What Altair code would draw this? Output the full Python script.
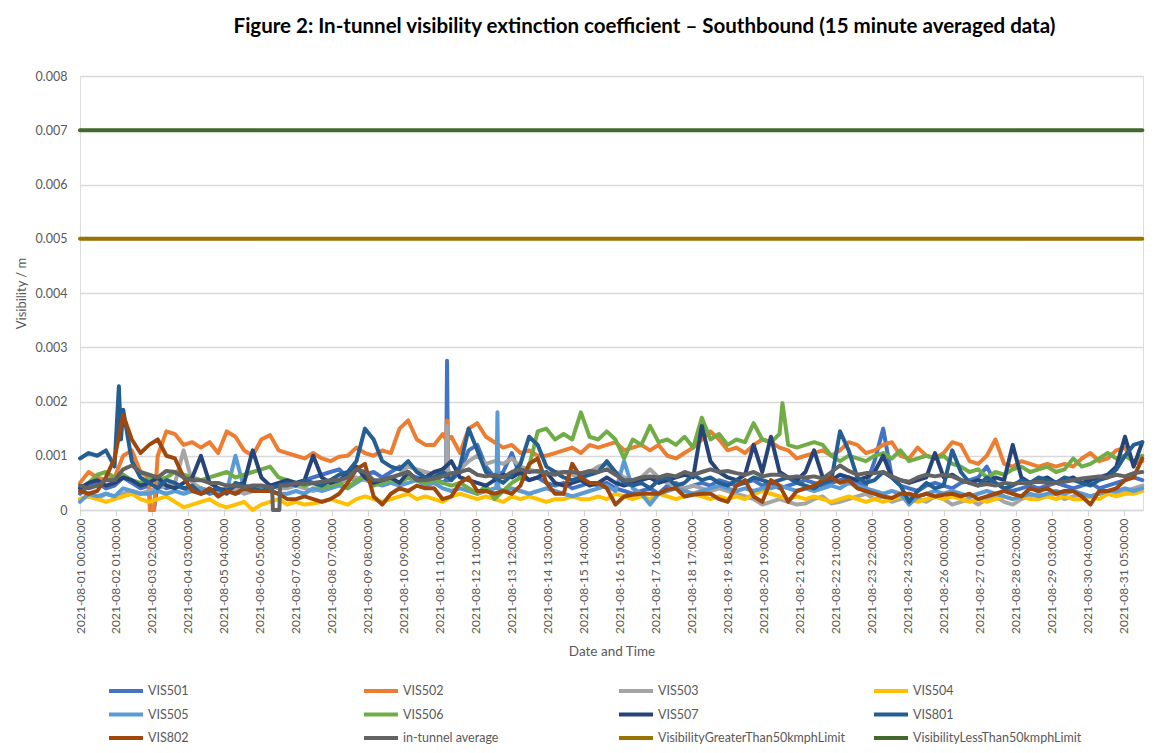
import altair as alt
import pandas as pd

# Readings every 6 hours from 2021-08-01 00:00; values in units of 0.001 per m
STEP_H = 6

VIS501 = [0.3, 0.45, 0.5, 0.4, 0.45, 0.6, 0.5, 0.4, 0.45, 0.5, 0.4, 0.45,
          0.4, 0.35, 0.4, 0.3, 0.35, 0.4, 0.3, 0.35, 0.4, 0.35, 0.4, 0.45,
          0.5, 0.45, 0.55, 0.6, 0.65, 0.7, 0.75, 0.6, 0.55, 0.65, 0.7, 0.6,
          0.7, 0.8, 0.65, 0.6, 0.55, 0.6, 0.5, 0.55, 0.7, 1.1, 1.2, 0.8,
          0.6, 0.7, 1.05, 0.6, 0.55, 0.6, 0.5, 0.45, 0.5, 0.4, 0.45, 0.5,
          0.45, 0.5, 0.4, 0.35, 0.3, 0.35, 0.4, 0.3, 0.45, 0.5, 0.4, 0.45,
          0.5, 0.45, 0.55, 0.5, 0.45, 0.5, 0.55, 0.45, 0.5, 0.4, 0.45, 0.5,
          0.55, 0.5, 0.45, 0.5, 0.55, 0.6, 0.5, 0.45, 0.9, 1.5, 0.6, 0.45,
          0.4, 0.35, 0.45, 0.5, 0.45, 0.4, 0.5, 0.55, 0.6, 0.8, 0.5, 0.4,
          0.35, 0.4, 0.45, 0.4, 0.45, 0.5, 0.45, 0.4, 0.45, 0.5, 0.4, 0.45,
          0.5, 0.55, 0.6, 0.55]
VIS502 = [0.5, 0.7, 0.6, 0.55, 0.6, 1.0, 1.1, 0.7, 0.6, 1.0, 1.45, 1.4,
          1.2, 1.25, 1.15, 1.25, 1.05, 1.45, 1.35, 1.1, 1.0, 1.3, 1.38, 1.1,
          1.05, 1.0, 0.95, 1.05, 0.95, 0.9, 0.98, 1.0, 1.15, 1.05, 1.0, 1.1,
          1.05, 1.5, 1.65, 1.3, 1.2, 1.2, 1.4, 1.35, 1.05, 1.5, 1.6, 1.35,
          1.25, 1.15, 1.2, 1.05, 1.1, 1.0, 1.0, 1.05, 1.1, 1.15, 1.05, 1.2,
          1.15, 1.2, 1.25, 1.1, 1.15, 1.2, 1.1, 1.2, 1.0, 0.95, 1.05, 1.15,
          1.3, 1.45, 1.3, 1.1, 1.15, 1.05, 1.2, 1.3, 1.25, 1.15, 1.1, 0.95,
          1.0, 1.05, 1.1, 1.0, 1.1, 1.25, 1.2, 1.05, 1.1, 1.2, 1.25, 1.0,
          0.95, 1.15, 1.0, 0.95, 1.05, 1.25, 1.2, 0.9, 0.85, 1.0, 1.3, 0.85,
          0.8, 0.9, 0.85, 0.8, 0.85, 0.8, 0.85, 0.8, 0.95, 1.05, 0.9, 0.95,
          1.1, 1.15, 0.85, 0.9]
VIS503 = [0.2, 0.25, 0.2, 0.3, 0.25, 0.3, 0.35, 0.3, 0.35, 0.4, 0.45, 0.5,
          1.1, 0.5, 0.4, 0.35, 0.3, 0.35, 0.4, 0.3, 0.35, 0.4, 0.45, 0.4,
          0.4, 0.45, 0.4, 0.35, 0.4, 0.45, 0.5, 0.55, 0.6, 0.55, 0.5, 0.55,
          0.6, 0.65, 0.8, 0.75, 0.7, 0.65, 0.75, 0.6, 0.75, 0.9, 1.0, 0.85,
          0.9, 0.85, 0.95, 0.8, 0.75, 0.7, 0.65, 0.7, 0.7, 0.65, 0.6, 0.7,
          0.8, 0.85, 0.7, 0.6, 0.55, 0.6, 0.75, 0.6, 0.5, 0.45, 0.4, 0.45,
          0.4, 0.35, 0.4, 0.35, 0.3, 0.25, 0.2, 0.1, 0.15, 0.2, 0.15, 0.1,
          0.12, 0.2, 0.25, 0.12, 0.15, 0.2, 0.25, 0.3, 0.2, 0.25, 0.15, 0.2,
          0.25, 0.2, 0.15, 0.25, 0.2, 0.1, 0.15, 0.2, 0.1, 0.2, 0.25, 0.15,
          0.1, 0.2, 0.25, 0.3, 0.25, 0.3, 0.2, 0.25, 0.3, 0.25, 0.3, 0.35,
          0.3, 0.35, 0.4, 0.45]
VIS504 = [0.2, 0.25, 0.2, 0.15, 0.2, 0.25, 0.3, 0.2, 0.15, 0.2, 0.25, 0.15,
          0.05, 0.1, 0.15, 0.2, 0.1, 0.05, 0.1, 0.15, 0.0, 0.1, 0.15, 0.2,
          0.1, 0.15, 0.1, 0.12, 0.15, 0.2, 0.15, 0.1, 0.2, 0.25, 0.2, 0.15,
          0.2, 0.25, 0.3, 0.2, 0.25, 0.2, 0.15, 0.25, 0.3, 0.25, 0.2, 0.25,
          0.2, 0.15, 0.25, 0.2, 0.25, 0.2, 0.15, 0.2, 0.2, 0.25, 0.2, 0.2,
          0.25, 0.2, 0.3, 0.25, 0.2, 0.25, 0.2, 0.3, 0.25, 0.2, 0.25, 0.3,
          0.25, 0.2, 0.25, 0.2, 0.25, 0.2, 0.3, 0.35, 0.3, 0.25, 0.2, 0.25,
          0.2, 0.25, 0.2, 0.15, 0.2, 0.25, 0.2, 0.15, 0.2, 0.15, 0.2, 0.25,
          0.2, 0.15, 0.2, 0.25, 0.2, 0.25, 0.2, 0.15, 0.2, 0.15, 0.2, 0.25,
          0.2, 0.25, 0.2, 0.2, 0.25, 0.2, 0.25, 0.2, 0.2, 0.25, 0.2, 0.3,
          0.25, 0.3, 0.3, 0.35]
VIS505 = [0.15, 0.3, 0.25, 0.3, 0.25, 0.4, 0.35, 0.3, 0.3, 0.35, 0.3, 0.35,
          0.3, 0.35, 0.4, 0.35, 0.3, 0.35, 1.0, 0.4, 0.35, 0.4, 0.35, 0.3,
          0.3, 0.35, 0.3, 0.4, 0.35, 0.4, 0.45, 0.4, 0.5, 0.6, 0.5, 0.45,
          0.5, 0.45, 0.5, 0.55, 0.45, 0.5, 0.4, 0.35, 0.4, 0.35, 0.3, 0.35,
          0.4, 0.35, 0.4, 0.35, 0.3, 0.35, 0.4, 0.35, 0.3, 0.25, 0.3, 0.35,
          0.4, 0.45, 0.35, 0.9, 0.4, 0.3, 0.1, 0.3, 0.35, 0.4, 0.35, 0.3,
          0.35, 0.4, 0.45, 0.4, 0.35, 0.4, 0.35, 0.4, 0.4, 0.45, 0.4, 0.35,
          0.4, 0.35, 0.4, 0.45, 0.4, 0.5, 0.45, 0.4, 0.35, 0.3, 0.35, 0.3,
          0.1, 0.25, 0.3, 0.35, 0.3, 0.35, 0.3, 0.25, 0.3, 0.35, 0.3, 0.25,
          0.2, 0.25, 0.3, 0.25, 0.3, 0.35, 0.3, 0.35, 0.3, 0.25, 0.3, 0.35,
          0.35, 0.4, 0.35, 0.4]
VIS506 = [0.4, 0.5, 0.65, 0.7, 0.6, 0.65, 0.55, 0.5, 0.6, 0.55, 0.6, 0.7,
          0.65, 0.6, 0.55, 0.6, 0.65, 0.7, 0.6, 0.65, 0.7, 0.75, 0.8, 0.6,
          0.55, 0.5, 0.45, 0.5, 0.4, 0.45, 0.5, 0.4, 0.55, 0.6, 0.45, 0.5,
          0.55, 0.5, 0.6, 0.55, 0.5, 0.55, 0.5, 0.45, 0.5, 0.4, 0.3, 0.45,
          0.2, 0.35, 0.5, 0.6, 0.8, 1.45, 1.5, 1.3, 1.4, 1.3, 1.8, 1.35,
          1.3, 1.45, 1.3, 0.95, 1.3, 1.2, 1.55, 1.25, 1.3, 1.2, 1.35, 1.15,
          1.7, 1.3, 1.4, 1.2, 1.3, 1.25, 1.6, 1.3, 1.25, 1.4, 1.2, 1.15,
          1.2, 1.25, 1.2, 1.0, 0.9, 1.0, 0.95, 0.9, 1.0, 1.05, 0.95, 1.1,
          0.9, 0.95, 1.0, 0.95, 1.0, 0.85, 0.8, 0.7, 0.75, 0.6, 0.7, 0.65,
          0.75, 0.8, 0.7, 0.75, 0.8, 0.7, 0.75, 0.95, 0.8, 0.85, 0.95, 1.05,
          0.95, 1.0, 0.9, 1.0]
VIS507 = [0.4, 0.5, 0.55, 0.45, 0.5, 0.6, 0.55, 0.45, 0.5, 0.6, 0.45, 0.4,
          0.5, 0.6, 1.0, 0.5, 0.4, 0.35, 0.45, 0.5, 1.1, 0.6, 0.45, 0.5,
          0.55, 0.5, 0.55, 1.0, 0.6, 0.5, 0.55, 0.65, 0.8, 0.6, 0.5, 0.55,
          0.6, 0.5, 0.7, 0.55, 0.6, 0.7, 0.75, 0.9, 0.6, 0.55, 0.5, 0.45,
          0.55, 0.65, 0.6, 0.7, 0.55, 0.6, 0.7, 0.5, 0.45, 0.5, 0.55, 0.45,
          0.5, 0.6, 0.5, 0.45, 0.5, 0.55, 0.6, 0.5, 0.55, 0.6, 0.65, 0.6,
          1.55, 0.9, 0.7, 0.6, 0.55, 0.65, 1.2, 0.7, 1.35, 0.7, 0.6, 0.55,
          0.7, 1.1, 0.6, 0.55, 0.65, 0.6, 0.55, 0.6, 0.7, 1.0, 0.6, 0.55,
          0.5, 0.55, 0.6, 1.05, 0.6, 0.65, 0.55, 0.5, 0.55, 0.5, 0.6, 0.55,
          1.2, 0.6, 0.5, 0.55, 0.6, 0.5, 0.55, 0.6, 0.5, 0.55, 0.6, 0.65,
          0.8, 1.35, 0.8, 1.25]
VIS801 = [0.95, 1.05, 1.0, 1.1, 0.8, 1.85, 0.9, 0.6, 0.5, 0.4, 0.55, 0.5,
          0.4, 0.45, 0.3, 0.35, 0.4, 0.3, 0.5, 0.45, 0.4, 0.35, 0.4, 0.45,
          0.5, 0.45, 0.55, 0.5, 0.45, 0.55, 0.65, 0.7, 0.9, 1.5, 1.3, 0.9,
          0.8, 0.75, 0.9, 0.7, 0.6, 0.6, 0.7, 0.55, 0.8, 1.5, 1.1, 0.7,
          0.6, 0.5, 0.65, 0.85, 1.35, 1.2, 0.8, 0.7, 0.6, 0.55, 0.6, 0.65,
          0.7, 0.9, 0.7, 0.5, 0.45, 0.5, 0.4, 0.55, 0.6, 0.45, 0.5, 0.65,
          0.55, 0.6, 0.5, 0.45, 0.55, 0.5, 0.6, 0.55, 0.5, 0.55, 0.6, 0.5,
          0.45, 0.4, 0.5, 0.55, 1.45, 1.1, 0.6, 0.5, 0.55, 0.7, 0.6, 0.45,
          0.15, 0.35, 0.5, 0.4, 0.45, 1.1, 0.7, 0.5, 0.45, 0.6, 0.5, 0.4,
          0.45, 0.55, 0.5, 0.6, 0.55, 0.5, 0.6, 0.55, 0.5, 0.45, 0.55, 0.6,
          0.75, 1.0, 1.2, 1.25]
VIS802 = [0.35, 0.3, 0.35, 0.6, 0.95, 1.75, 1.3, 1.05, 1.2, 1.3, 1.0, 0.95,
          0.6, 0.35, 0.3, 0.4, 0.25, 0.35, 0.3, 0.4, 0.35, 0.35, 0.35, 0.3,
          0.2, 0.2, 0.25, 0.2, 0.15, 0.2, 0.3, 0.5, 0.75, 0.85, 0.25, 0.1,
          0.3, 0.4, 0.35, 0.45, 0.4, 0.4, 0.2, 0.25, 0.5, 0.6, 0.35, 0.35,
          0.3, 0.35, 0.3, 0.45, 0.85, 0.95, 0.5, 0.3, 0.3, 0.85, 0.6, 0.5,
          0.5, 0.4, 0.1, 0.25, 0.28, 0.3, 0.3, 0.3, 0.38, 0.4, 0.25, 0.28,
          0.3, 0.3, 0.2, 0.15, 0.45, 0.55, 0.25, 0.15, 0.55, 0.45, 0.15, 0.35,
          0.4, 0.45, 0.55, 0.6, 0.5, 0.55, 0.4, 0.35, 0.3, 0.25, 0.22, 0.3,
          0.3, 0.25, 0.3, 0.25, 0.28, 0.3, 0.25, 0.3, 0.2, 0.25, 0.3, 0.35,
          0.3, 0.25, 0.4, 0.35, 0.4, 0.3, 0.35, 0.35, 0.25, 0.1, 0.35, 0.35,
          0.4, 0.55, 0.6, 0.95]
AVERAGE = [0.45, 0.4, 0.45, 0.55, 0.55, 0.75, 0.82, 0.7, 0.65, 0.6, 0.72, 0.7,
           0.6, 0.55, 0.55, 0.5, 0.5, 0.45, 0.45, 0.42, 0.45, 0.45, 0.42, 0.0,
           0.45, 0.5, 0.48, 0.5, 0.52, 0.55, 0.55, 0.6, 0.75, 0.7, 0.55, 0.55,
           0.6, 0.65, 0.7, 0.55, 0.55, 0.58, 0.62, 0.68, 0.7, 0.75, 0.65, 0.62,
           0.65, 0.6, 0.7, 0.75, 0.7, 0.72, 0.68, 0.65, 0.7, 0.7, 0.68, 0.72,
           0.7, 0.75, 0.65, 0.55, 0.55, 0.6, 0.62, 0.6, 0.65, 0.62, 0.7, 0.65,
           0.7, 0.75, 0.7, 0.72, 0.68, 0.65, 0.7, 0.62, 0.65, 0.65, 0.6, 0.62,
           0.6, 0.62, 0.58, 0.7, 0.82, 0.72, 0.65, 0.68, 0.68, 0.7, 0.62, 0.55,
           0.52, 0.6, 0.65, 0.62, 0.65, 0.62, 0.55, 0.5, 0.45, 0.48, 0.45, 0.5,
           0.48, 0.5, 0.5, 0.52, 0.5, 0.5, 0.52, 0.55, 0.58, 0.6, 0.62, 0.6,
           0.65, 0.62, 0.68, 0.7]

# Short events read between the 6-hourly readings
SPIKE_SERIES = ["VIS501", "VIS501", "VIS501", "VIS501", "VIS501",
                "VIS502", "VIS502", "VIS502", "VIS502", "VIS502",
                "VIS503", "VIS503", "VIS503",
                "VIS505", "VIS505", "VIS505",
                "VIS506",
                "VIS801", "VIS801",
                "in-tunnel average", "in-tunnel average",
                "in-tunnel average", "in-tunnel average"]
SPIKE_HOURS = [48.6, 51.4, 254.3, 255.0, 255.7,
               48.6, 51.4, 254.3, 255.0, 255.7,
               254.3, 255.0, 255.7,
               289.3, 290.0, 290.7,
               488.0,
               27.0, 28.5,
               133.5, 134.0, 138.5, 139.0]
SPIKE_VALUES = [0.0, 0.0, 0.55, 2.75, 0.55,
                0.0, 0.0, 1.3, 1.65, 1.3,
                0.75, 1.55, 0.75,
                0.4, 1.8, 0.4,
                1.97,
                2.28, 1.3,
                0.42, 0.0, 0.0, 0.45]

LIMIT_GT = 5.0   # VisibilityGreaterThan50kmphLimit
LIMIT_LT = 7.0   # VisibilityLessThan50kmphLimit
END_HOUR = 738

SERIES = ["VIS501", "VIS502", "VIS503", "VIS504", "VIS505", "VIS506",
          "VIS507", "VIS801", "VIS802", "in-tunnel average",
          "VisibilityGreaterThan50kmphLimit", "VisibilityLessThan50kmphLimit"]
COLORS = ["#4472C4", "#ED7D31", "#A5A5A5", "#FFC000", "#5B9BD5", "#70AD47",
          "#264478", "#255E91", "#9E480E", "#636363", "#997300", "#43682B"]

TICK_LABELS = ["2021-08-01 00:00:00", "2021-08-02 01:00:00", "2021-08-03 02:00:00",
               "2021-08-04 03:00:00", "2021-08-05 04:00:00", "2021-08-06 05:00:00",
               "2021-08-07 06:00:00", "2021-08-08 07:00:00", "2021-08-09 08:00:00",
               "2021-08-10 09:00:00", "2021-08-11 10:00:00", "2021-08-12 11:00:00",
               "2021-08-13 12:00:00", "2021-08-14 13:00:00", "2021-08-15 14:00:00",
               "2021-08-16 15:00:00", "2021-08-17 16:00:00", "2021-08-18 17:00:00",
               "2021-08-19 18:00:00", "2021-08-20 19:00:00", "2021-08-21 20:00:00",
               "2021-08-22 21:00:00", "2021-08-23 22:00:00", "2021-08-24 23:00:00",
               "2021-08-26 00:00:00", "2021-08-27 01:00:00", "2021-08-28 02:00:00",
               "2021-08-29 03:00:00", "2021-08-30 04:00:00", "2021-08-31 05:00:00"]
TICK_STEP_H = 25

# ---------- build table ----------
series_values = [VIS501, VIS502, VIS503, VIS504, VIS505, VIS506,
                 VIS507, VIS801, VIS802, AVERAGE]
rows = []
for name, vals in zip(SERIES[:10], series_values):
    for i, v in enumerate(vals):
        rows.append({"series": name, "hour": i * STEP_H, "v": v / 1000.0})
for name, h, v in zip(SPIKE_SERIES, SPIKE_HOURS, SPIKE_VALUES):
    rows.append({"series": name, "hour": h, "v": v / 1000.0})
for name, lim in [(SERIES[10], LIMIT_GT), (SERIES[11], LIMIT_LT)]:
    rows.append({"series": name, "hour": 0, "v": lim / 1000.0})
    rows.append({"series": name, "hour": END_HOUR, "v": lim / 1000.0})
df = pd.DataFrame(rows).sort_values(["series", "hour"]).reset_index(drop=True)

FONT = "Lato"
TEXT_COLOR = "#595959"

label_array = "[" + ",".join("'%s'" % s for s in TICK_LABELS) + "]"
x_enc = alt.X(
    "hour:Q",
    scale=alt.Scale(domain=[0, END_HOUR + 0.5], nice=False, zero=False),
    axis=alt.Axis(
        values=[k * TICK_STEP_H for k in range(len(TICK_LABELS))],
        labelExpr=label_array + "[round(datum.value / %d)]" % TICK_STEP_H,
        labelAngle=-90, labelFont=FONT, labelFontSize=12, labelColor=TEXT_COLOR,
        labelPadding=3, labelOverlap=False,
        tickSize=5, tickDash=[1, 1], tickColor="#A6A6A6", tickWidth=1,
        domainColor="#D9D9D9", domainWidth=1.3, grid=False,
        title="Date and Time", titleFont=FONT, titleFontSize=13.5,
        titleFontWeight="normal", titleColor=TEXT_COLOR, titlePadding=11,
    ),
)
y_enc = alt.Y(
    "v:Q",
    scale=alt.Scale(domain=[0, 0.008], nice=False),
    axis=alt.Axis(
        values=[k / 1000.0 for k in range(9)],
        labelExpr="datum.value == 0 ? '0' : format(datum.value, '.3f')",
        labelFont=FONT, labelFontSize=12.5, labelColor=TEXT_COLOR, labelPadding=13,
        ticks=False, domain=False, grid=True, gridColor="#D9D9D9", gridWidth=1.3,
        title="Visibility / m", titleFont=FONT, titleFontSize=13,
        titleFontWeight="normal", titleColor=TEXT_COLOR, titlePadding=7,
    ),
)
legend = alt.Legend(
    title=None, orient="none", legendX=34, legendY=603, columns=4,
    direction="horizontal", gridAlign="all",
    symbolType="M-1.7,0H1.7", symbolSize=400, symbolStrokeWidth=4,
    labelFont=FONT, labelFontSize=12.5, labelColor=TEXT_COLOR, labelLimit=400,
    labelOffset=10, columnPadding=21, rowPadding=3.5, padding=0,
)
color_enc = alt.Color("series:N", scale=alt.Scale(domain=SERIES, range=COLORS),
                      legend=legend)

layers = []
for name in SERIES:
    layers.append(
        alt.Chart()
        .transform_filter(alt.datum.series == name)
        .mark_line(strokeWidth=4, strokeJoin="round", strokeCap="round")
        .encode(x=x_enc, y=y_enc, color=color_enc)
    )

chart = (
    alt.layer(*layers, data=df)
    .properties(
        width=1063, height=434,
        autosize=alt.AutoSizeParams(type="none"),
        padding={"left": 72, "top": 68, "right": 15, "bottom": 243},
        title=alt.TitleParams(
            "Figure 2: In-tunnel visibility extinction coefficient \u2013 Southbound (15 minute averaged data)",
            font=FONT, fontSize=20.5, fontWeight="bold", color="#000000",
            anchor="middle", dx=33, offset=33,
        ),
    )
    .configure_view(stroke=None)
    .configure(background="white")
)

chart.save("out.html", embed_options={"renderer": "svg", "actions": False})
